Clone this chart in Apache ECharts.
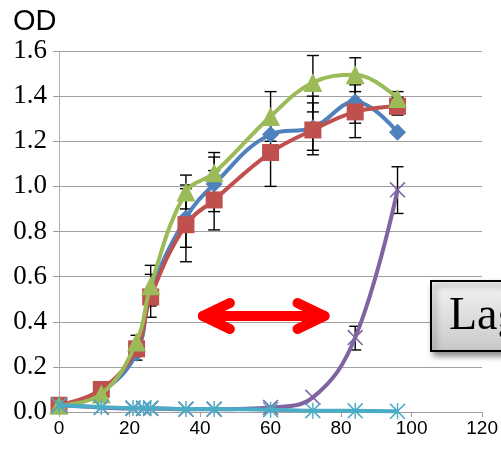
<!DOCTYPE html>
<html>
<head>
<meta charset="utf-8">
<script src="https://cdn.jsdelivr.net/npm/echarts@6/dist/echarts.min.js"></script>
<style>
  html, body { margin: 0; padding: 0; background: #fff; }
  #chart { width: 501px; height: 450px; }
</style>
</head>
<body>
<div id="chart"></div>
<script>
// sampling times (h)
const timeMain = [0, 12, 22, 26, 36, 44, 60, 72, 84, 96];
const timeCtrl = [0, 12, 21, 24, 26, 36, 44, 60, 72, 84, 96];

// OD readings
const blueOD = [0.03, 0.09, 0.26, 0.53, 0.86, 1.01, 1.23, 1.26, 1.375, 1.24];
const redOD = [0.03, 0.10, 0.28, 0.51, 0.83, 0.94, 1.15, 1.25, 1.33, 1.355];
const greenOD = [0.03, 0.08, 0.31, 0.56, 0.975, 1.06, 1.31, 1.46, 1.495, 1.39];
const purpleOD = [0.03, 0.02, 0.015, 0.015, 0.015, 0.012, 0.012, 0.02, 0.065, 0.33, 0.985];
const cyanOD = [0.03, 0.022, 0.018, 0.018, 0.018, 0.013, 0.013, 0.01, 0.006, 0.005, 0.003];

// error bars: [time, low, high]
const errorBars = [
  [22, 0.23, 0.34],
  [26, 0.47, 0.65], [26, 0.42, 0.61],
  [36, 0.90, 1.05], [36, 0.73, 1.006], [36, 0.666, 0.99],
  [44, 0.97, 1.15], [44, 0.888, 1.13], [44, 0.807, 1.07],
  [60, 1.20, 1.42], [60, 1.00, 1.29],
  [72, 1.33, 1.58], [72, 1.16, 1.40], [72, 1.14, 1.37],
  [84, 1.42, 1.57], [84, 1.28, 1.47], [84, 1.216, 1.45],
  [96, 1.36, 1.42], [96, 1.316, 1.395],
  [84, 0.275, 0.38], [96, 0.88, 1.087]
];

// lag arrow ends (time, OD)
const lagArrow = [[40.8, 0.4255], [75.3, 0.4255]];

const xTicks = { min: 0, max: 120, interval: 20 };
const yTicks = { min: 0, max: 1.6, interval: 0.2 };

const X_SYMBOL = 'path://M0.7,0 L5,4.3 L9.3,0 L10,0.7 L5.7,5 L10,9.3 L9.3,10 L5,5.7 L0.7,10 L0,9.3 L4.3,5 L0,0.7 Z';
const STAR_SYMBOL = X_SYMBOL + ' M4.55,0 L5.45,0 L5.45,10 L4.55,10 Z';

const zip = (xs, ys) => xs.map((x, i) => [x, ys[i]]);

function lineSeries(name, xs, ys, color, symbol, size, z) {
  return {
    name, type: 'line', smooth: 0.4, z,
    data: zip(xs, ys),
    symbol, symbolSize: size,
    lineStyle: { color, width: 4 },
    itemStyle: { color },
    emphasis: { disabled: true }
  };
}

const chart = echarts.init(document.getElementById('chart'));
chart.setOption({
  animation: false,
  grid: { left: 59, right: 18, top: 51, bottom: 38 },
  xAxis: {
    type: 'value', ...xTicks,
    axisLine: { show: true, lineStyle: { color: '#a0a0a0' } },
    axisTick: { show: true, length: 5, lineStyle: { color: '#a0a0a0' } },
    splitLine: { show: false },
    axisLabel: { fontFamily: 'Liberation Sans', fontSize: 19, color: '#000', margin: 7 }
  },
  yAxis: {
    type: 'value', ...yTicks,
    axisLine: { show: true, lineStyle: { color: '#b0b0b0' } },
    axisTick: { show: true, length: 6, lineStyle: { color: '#a0a0a0' } },
    splitLine: { lineStyle: { color: '#a0a0a0' } },
    axisLabel: {
      fontFamily: 'Liberation Serif', fontSize: 27, color: '#000', margin: 12,
      formatter: (v) => v.toFixed(1)
    }
  },
  series: [
    {
      type: 'custom', z: 1, silent: true,
      data: errorBars,
      renderItem: (params, api) => {
        const lo = api.coord([api.value(0), api.value(1)]);
        const hi = api.coord([api.value(0), api.value(2)]);
        const w = 6;
        const st = { stroke: '#000', lineWidth: 1.4 };
        return {
          type: 'group',
          children: [
            { type: 'line', shape: { x1: lo[0], y1: lo[1], x2: hi[0], y2: hi[1] }, style: st },
            { type: 'line', shape: { x1: lo[0] - w, y1: lo[1], x2: lo[0] + w, y2: lo[1] }, style: st },
            { type: 'line', shape: { x1: hi[0] - w, y1: hi[1], x2: hi[0] + w, y2: hi[1] }, style: st }
          ]
        };
      }
    },
    lineSeries('blue', timeMain, blueOD, '#4F81BD', 'diamond', 17, 3),
    lineSeries('red', timeMain, redOD, '#C0504D', 'rect', 17, 4),
    lineSeries('green', timeMain, greenOD, '#9BBB59', 'triangle', 19, 5),
    lineSeries('purple', timeCtrl, purpleOD, '#8064A2', X_SYMBOL, 16, 6),
    lineSeries('cyan', timeCtrl, cyanOD, '#4BACC6', STAR_SYMBOL, 16, 7)
  ]
});

// annotations: OD label, lag arrow and the "Lag" box
const a = chart.convertToPixel({ gridIndex: 0 }, lagArrow[0]);
const b = chart.convertToPixel({ gridIndex: 0 }, lagArrow[1]);
const headDx = 27, headDy = 13;
const arrowStyle = { stroke: '#FF0000', lineWidth: 10, lineCap: 'round', lineJoin: 'round', fill: null };
chart.setOption({
  graphic: [
    {
      type: 'text', x: 13, y: 22,
      style: { text: 'OD', font: 'normal 29px "Liberation Sans"', fill: '#000', verticalAlign: 'middle' }
    },
    { type: 'polyline', z: 20, shape: { points: [a, b] }, style: arrowStyle },
    { type: 'polyline', z: 20, shape: { points: [[a[0] + headDx, a[1] - headDy], a, [a[0] + headDx, a[1] + headDy]] }, style: arrowStyle },
    { type: 'polyline', z: 20, shape: { points: [[b[0] - headDx, b[1] - headDy], b, [b[0] - headDx, b[1] + headDy]] }, style: arrowStyle },
    {
      type: 'rect', z: 20,
      shape: { x: 431, y: 281, width: 130, height: 70 },
      style: {
        fill: new echarts.graphic.LinearGradient(0, 0, 0, 1, [
          { offset: 0, color: '#f4f4f4' },
          { offset: 1, color: '#c8c8c8' }
        ]),
        stroke: '#000', lineWidth: 2,
        shadowBlur: 6, shadowOffsetX: 3, shadowOffsetY: 4, shadowColor: 'rgba(0,0,0,0.45)'
      }
    },
    {
      type: 'text', z: 21, x: 449, y: 317,
      style: { text: 'Lag', fontFamily: 'Liberation Serif', fontSize: 46, fill: '#000', verticalAlign: 'middle' }
    }
  ]
});
</script>
</body>
</html>
